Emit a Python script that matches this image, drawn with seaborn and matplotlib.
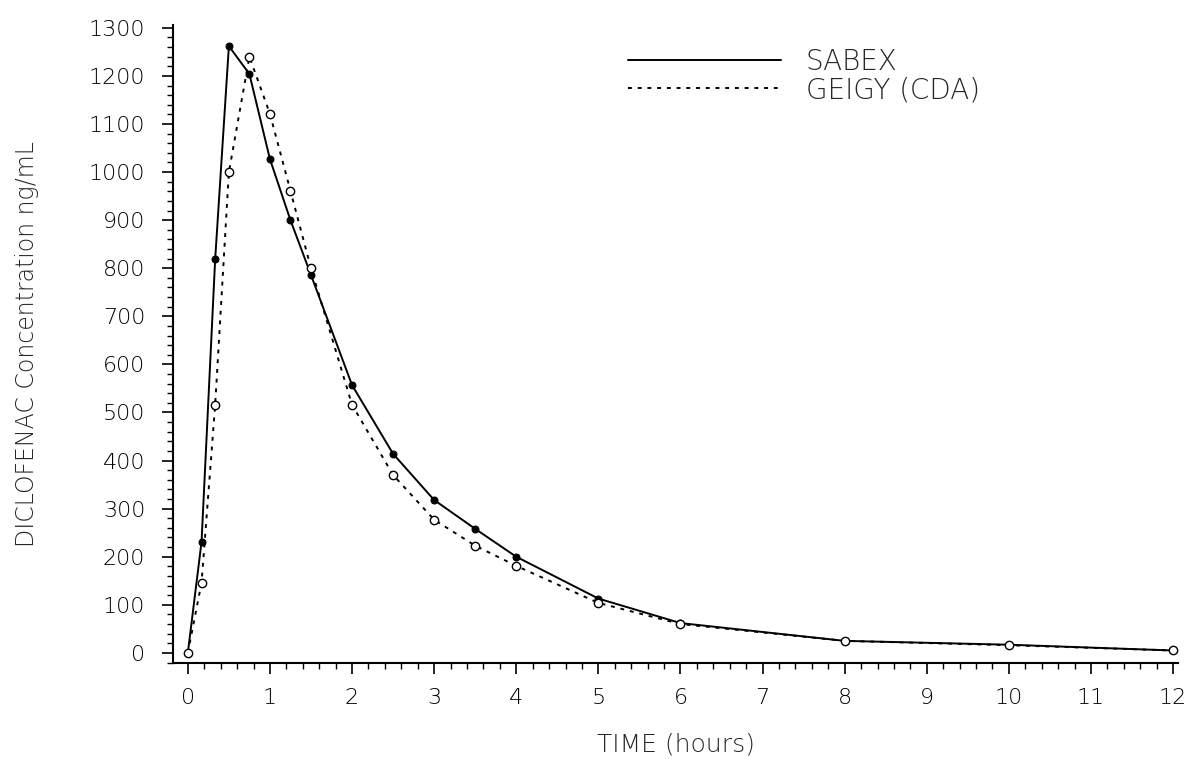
import numpy as np
import pandas as pd
import matplotlib
matplotlib.use("Agg")
import matplotlib.pyplot as plt
import seaborn as sns
from matplotlib.ticker import MultipleLocator

# Sampling times (hours) and plasma concentrations (ng/mL)
time_h = [0, 0.167, 0.333, 0.5, 0.75, 1, 1.25, 1.5, 2, 2.5, 3, 3.5, 4, 5, 6, 8, 10, 12]
sabex = [0, 231, 819, 1262, 1204, 1027, 900, 786, 557, 414, 318, 258, 200, 113, 62, 25, 17, 5]
geigy = [0, 146, 516, 1000, 1240, 1121, 961, 800, 516, 370, 277, 223, 181, 104, 60, 25, 16, 5]

x_ticks = list(range(0, 13))
y_ticks = list(range(0, 1301, 100))

df = pd.DataFrame({"TIME": time_h, "SABEX": sabex, "GEIGY (CDA)": geigy})

sns.set_theme(style="white")
plt.rcParams["font.family"] = ["DejaVu Sans"]

fig = plt.figure(figsize=(11.91, 7.59), dpi=100)
ax = fig.add_axes([0.1453, 0.1265, 0.8438, 0.8406])

sns.lineplot(data=df, x="TIME", y="SABEX", ax=ax, color="black", linewidth=1.4,
             marker="o", markersize=5, markerfacecolor="black", markeredgecolor="black",
             label="SABEX")
sns.lineplot(data=df, x="TIME", y="GEIGY (CDA)", ax=ax, color="black", linewidth=1.4,
             linestyle=(0, (2, 3)), marker="o", markersize=6, markerfacecolor="white",
             markeredgecolor="black", markeredgewidth=1.0, label="GEIGY (CDA)")

ax.set_xlim(-0.18, 12.06)
ax.set_ylim(-21, 1306)
ax.set_xticks(x_ticks)
ax.set_yticks(y_ticks)
ax.xaxis.set_minor_locator(MultipleLocator(0.2))
ax.yaxis.set_minor_locator(MultipleLocator(20))

for side in ["top", "right"]:
    ax.spines[side].set_visible(False)
for side in ["left", "bottom"]:
    ax.spines[side].set_color("black")
    ax.spines[side].set_linewidth(1.5)

ax.tick_params(axis="both", which="major", direction="out", length=8, width=1.2,
               color="black", labelsize=16, labelcolor="black", pad=12)
ax.tick_params(axis="x", which="major", pad=10)
ax.tick_params(axis="both", which="minor", direction="out", length=4, width=1.0,
               color="black")
ax.tick_params(axis="x", which="both", bottom=True)
ax.tick_params(axis="y", which="both", left=True)
for lab in ax.get_xticklabels() + ax.get_yticklabels():
    lab.set_fontweight("light")

ax.set_xlabel("TIME (hours)", fontsize=18, fontweight="light", labelpad=18)
ax.set_ylabel("DICLOFENAC Concentration ng/mL", fontsize=17, fontweight="light", labelpad=36)

leg = ax.legend(loc="upper left", bbox_to_anchor=(0.428, 1.003), frameon=False,
                fontsize=20, handlelength=5.5, handletextpad=0.9, labelspacing=0.0)
for h in leg.get_lines():
    h.set_marker("")
for t in leg.get_texts():
    t.set_fontweight("light")

fig.savefig("out.png", dpi=100)
